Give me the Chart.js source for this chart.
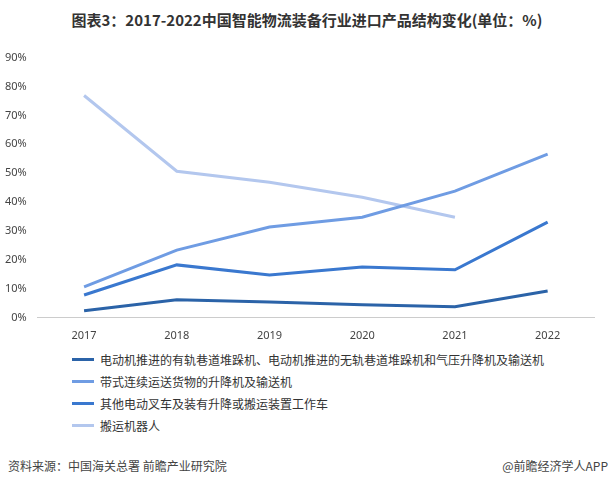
<!DOCTYPE html><html><head><meta charset="utf-8">
<script src="https://cdn.jsdelivr.net/npm/chart.js@4"></script>
<style>
body{margin:0;width:614px;height:485px;background:#fff;font-family:"Noto Sans CJK SC",sans-serif;position:relative;overflow:hidden}
#t{position:absolute;top:9px;left:0;width:614px;text-align:center;font-weight:bold;font-size:15px;color:#333}
#c{position:absolute;left:0;top:48px;width:614px;height:297px}
#lg{position:absolute;left:72px;top:348px;font-size:12px;color:#333}
#lg div{height:22px;display:flex;align-items:center}
#lg span{display:inline-block;width:22px;height:3px;margin-right:6px}
#f{position:absolute;top:457px;left:8px;font-size:12px;color:#444}
#f2{position:absolute;top:457px;right:6px;font-size:12px;color:#444}
</style></head><body>
<div id="t">图表3：2017-2022中国智能物流装备行业进口产品结构变化(单位：%)</div>
<div id="c"><canvas id="cv"></canvas></div>
<div id="lg"></div>
<div id="f">资料来源：中国海关总署 前瞻产业研究院</div>
<div id="f2">@前瞻经济学人APP</div>
<script>
const categories=["2017","2018","2019","2020","2021","2022"];
const names=["电动机推进的有轨巷道堆跺机、电动机推进的无轨巷道堆跺机和气压升降机及输送机","带式连续运送货物的升降机及输送机","其他电动叉车及装有升降或搬运装置工作车","搬运机器人"];
const s1=[2.4,6.2,5.5,4.5,3.8,9.3];
const s2=[10.7,23.4,31.4,34.8,43.8,56.6];
const s3=[7.9,18.3,14.8,17.6,16.6,33.1];
const s4=[76.9,50.7,46.9,41.7,34.8,null];
const colors=["#2b63a8","#6f9ce3","#3a78cf","#b3c7ee"];
const data=[s1,s2,s3,s4];
document.getElementById('lg').innerHTML=names.map((n,i)=>`<div><span style="background:${colors[i]}"></span>${n}</div>`).join('');
new Chart(document.getElementById('cv'),{type:'line',
data:{labels:categories,datasets:data.map((d,i)=>({label:names[i],data:d,borderColor:colors[i],borderWidth:3,pointRadius:0,tension:0,fill:false}))},
options:{responsive:true,maintainAspectRatio:false,animation:false,
layout:{padding:{left:2,right:20,top:0,bottom:0}},
plugins:{legend:{display:false},tooltip:{enabled:false}},
scales:{x:{offset:true,grid:{display:false},border:{color:'#ccc'},ticks:{color:'#444',font:{size:11,family:'Noto Sans'}}},
y:{min:0,max:90,grid:{display:false},border:{display:false},ticks:{stepSize:10,color:'#444',font:{size:11,family:'Noto Sans'},callback:v=>v+'%'}}}}});
</script></body></html>
